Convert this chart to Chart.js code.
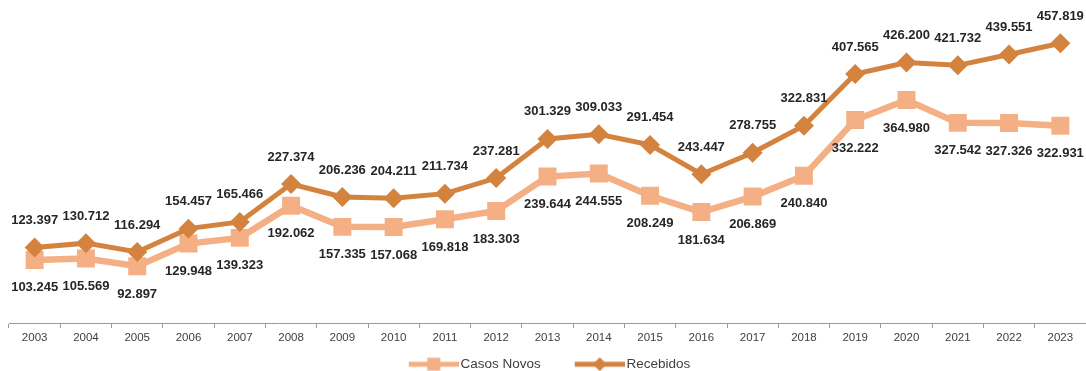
<!DOCTYPE html>
<html>
<head>
<meta charset="utf-8">
<script src="https://cdn.jsdelivr.net/npm/chart.js@4/dist/chart.umd.min.js"></script>
<style>
html, body { margin: 0; padding: 0; background: #fff; }
</style>
</head>
<body>
<canvas id="canvas1" width="1086" height="371"></canvas>
<script>
var years = ['2003', '2004', '2005', '2006', '2007', '2008', '2009', '2010', '2011', '2012', '2013',
             '2014', '2015', '2016', '2017', '2018', '2019', '2020', '2021', '2022', '2023'];
var casosNovos = [103245, 105569, 92897, 129948, 139323, 192062, 157335, 157068, 169818, 183303, 239644,
                  244555, 208249, 181634, 206869, 240840, 332222, 364980, 327542, 327326, 322931];
var recebidos = [123397, 130712, 116294, 154457, 165466, 227374, 206236, 204211, 211734, 237281, 301329,
                 309033, 291454, 243447, 278755, 322831, 407565, 426200, 421732, 439551, 457819];

var lightOrange = '#F5AF84';
var darkOrange = '#D4833F';

function fmt(v) {
    return String(v).replace(/\B(?=(\d{3})+(?!\d))/g, '.');
}

// little line+marker sample for the legend, with empty room on the left for spacing
function legendSample(color, style) {
    var c = document.createElement('canvas');
    c.width = 79;
    c.height = 20;
    var g = c.getContext('2d');
    g.strokeStyle = color;
    g.lineWidth = 5;
    g.beginPath();
    g.moveTo(29, 10);
    g.lineTo(79, 10);
    g.stroke();
    g.fillStyle = color;
    if (style === 'rect') {
        g.fillRect(54 - 6.5, 10 - 6.5, 13, 13);
    } else {
        g.beginPath();
        g.moveTo(54, 3);
        g.lineTo(61, 10);
        g.lineTo(54, 17);
        g.lineTo(47, 10);
        g.closePath();
        g.fill();
    }
    return c;
}

var valueLabels = {
    id: 'valueLabels',
    afterDatasetsDraw: function(chart) {
        var ctx = chart.ctx;
        ctx.save();
        ctx.font = 'bold 13px "Liberation Sans", Arial, sans-serif';
        ctx.fillStyle = '#262626';
        ctx.textAlign = 'center';
        ctx.textBaseline = 'middle';
        chart.data.datasets.forEach(function(ds, i) {
            var meta = chart.getDatasetMeta(i);
            var dy = ds.labelAbove ? -27 : 28;
            meta.data.forEach(function(pt, j) {
                ctx.fillText(fmt(ds.data[j]), pt.x, pt.y + dy);
            });
        });
        ctx.restore();
    }
};

// legend sits a bit left of centre in the original
var legendNudge = {
    id: 'legendNudge',
    afterLayout: function(chart) {
        if (chart.legend) {
            chart.legend.left -= 10;
            chart.legend.right -= 10;
        }
    }
};

var samples = [legendSample(lightOrange, 'rect'), legendSample(darkOrange, 'rectRot')];

var myChart1 = new Chart(document.getElementById('canvas1'), {
    type: 'line',
    data: {
        labels: years,
        datasets: [{
            label: 'Casos Novos',
            data: casosNovos,
            borderColor: lightOrange,
            backgroundColor: lightOrange,
            borderWidth: 6.5,
            pointStyle: 'rect',
            pointRadius: 12.7,
            pointBorderWidth: 0,
            pointBackgroundColor: lightOrange,
            order: 1,
            labelAbove: false
        }, {
            label: 'Recebidos',
            data: recebidos,
            borderColor: darkOrange,
            backgroundColor: darkOrange,
            borderWidth: 5,
            pointStyle: 'rectRot',
            pointRadius: 10,
            pointBorderWidth: 0,
            pointBackgroundColor: darkOrange,
            order: 0,
            labelAbove: true
        }]
    },
    options: {
        responsive: false,
        animation: false,
        events: [],
        layout: {
            autoPadding: false,
            padding: { top: 17.5, left: 9, right: 0, bottom: -10 }
        },
        scales: {
            x: {
                offset: true,
                grid: {
                    offset: true,
                    drawOnChartArea: false,
                    drawTicks: true,
                    tickLength: 5,
                    color: '#9a9a9a'
                },
                border: { display: true, color: '#9a9a9a', width: 1 },
                ticks: {
                    color: '#404040',
                    padding: 4,
                    maxRotation: 0,
                    autoSkip: false,
                    font: { family: '"Liberation Sans", Arial, sans-serif', size: 11.5, lineHeight: 1 }
                }
            },
            y: {
                display: false,
                min: 0,
                max: 500000
            }
        },
        plugins: {
            legend: {
                position: 'bottom',
                labels: {
                    usePointStyle: true,
                    pointStyleWidth: 69,
                    padding: 10,
                    color: '#404040',
                    font: { family: '"Liberation Sans", Arial, sans-serif', size: 13.5 },
                    generateLabels: function(chart) {
                        return chart.data.datasets.map(function(ds, i) {
                            return {
                                text: ds.label,
                                pointStyle: samples[i],
                                fillStyle: ds.borderColor,
                                strokeStyle: ds.borderColor,
                                lineWidth: 0,
                                hidden: false,
                                datasetIndex: i,
                                fontColor: '#404040'
                            };
                        });
                    }
                }
            },
            tooltip: { enabled: false }
        }
    },
    plugins: [valueLabels, legendNudge]
});
</script>
</body>
</html>
